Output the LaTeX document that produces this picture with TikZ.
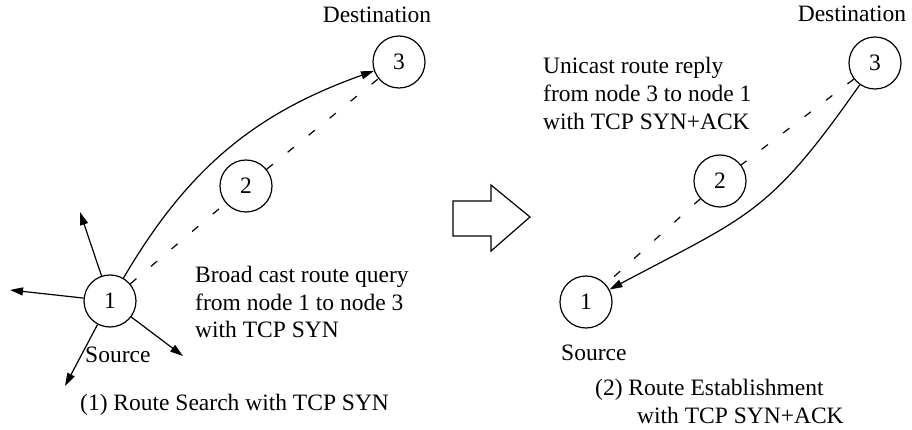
\documentclass[tikz,border=0pt]{standalone}
\usepackage{fontspec}
\setmainfont{Liberation Serif}
\newfontfamily\labelfont{Liberation Serif}
\usetikzlibrary{arrows.meta}
\begin{document}
\begin{tikzpicture}[x=1pt,y=1pt,
  every node/.style={font=\labelfont\fontsize{23.5}{28}\selectfont},
  host/.style={circle, draw, line width=1.2pt, minimum size=52pt, inner sep=0pt},
  lbl/.style={inner sep=0pt, anchor=base west},
  link/.style={line width=1.2pt, -{Triangle[length=13pt,width=8pt]}},
  hop/.style={line width=1.2pt, dash pattern=on 8pt off 19pt},
]
\useasboundingbox (0,0) rectangle (912,-430);

% hosts
\node[host] (n1L) at (110,-301) {1};
\node[host] (n2L) at (246,-186) {2};
\node[host] (n3L) at (399,-62) {3};
\node[host] (n1R) at (586,-302) {1};
\node[host] (n2R) at (720,-181) {2};
\node[host] (n3R) at (875,-63) {3};

% role labels
\node[lbl, anchor=base] (dstL) at (377,-23) {Destination};
\node[lbl, anchor=base] (dstR) at (852,-22) {Destination};
\node[lbl] (srcL) at (85,-362) {Source};
\node[lbl] (srcR) at (561,-360) {Source};

% message descriptions
\node[lbl] (qry1) at (195,-282) {Broad cast route query};
\node[lbl] (qry2) at (195,-310) {from node 1 to node 3};
\node[lbl] (qry3) at (195,-337) {with TCP SYN};
\node[lbl] (rep1) at (543,-74) {Unicast route reply};
\node[lbl] (rep2) at (543,-102) {from node 3 to node 1};
\node[lbl] (rep3) at (543,-130) {with TCP SYN+ACK};

% captions
\node[lbl] (capL) at (80,-410) {(1) Route Search with TCP SYN};
\node[lbl] (capR1) at (595,-395) {(2) Route Establishment};
\node[lbl] (capR2) at (637,-423) {with TCP SYN+ACK};

% broadcast from the source
\coordinate (fA) at (80,-212);
\coordinate (fB) at (10,-290);
\coordinate (fC) at (183,-356);
\coordinate (fD) at (65,-386);
\draw[link] (n1L) -- (fA);
\draw[link] (n1L) -- (fB);
\draw[link] (n1L) -- (fC);
\draw[link] (n1L) -- (fD);

% multi-hop path
\draw[hop] (n1L) -- (n2L);
\draw[hop] (n2L) -- (n3L);
\draw[hop] (n3R) -- (n2R);
\draw[hop] (n2R) -- (n1R);

% query and reply
\draw[link] (n1L) to[bend left=20] (n3L);
\draw[link] (n3R) to[out=235, in=28, looseness=1.25] (n1R);

% transition arrow
\draw[line width=1.2pt, line join=miter]
  (453,-201) -- (491,-201) -- (491,-185) -- (530,-217) -- (491,-251)
  -- (491,-236) -- (453,-236) -- cycle;
\end{tikzpicture}
\end{document}
